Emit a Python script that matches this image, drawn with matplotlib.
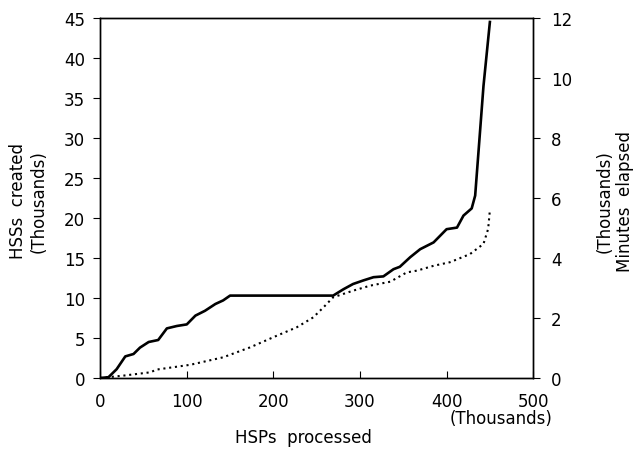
import matplotlib.pyplot as plt

# HSSs created (thousands) vs HSPs processed (thousands)
hss_x = [0, 9.6, 19, 29, 38.5, 46, 56, 67, 77, 88.5, 100, 110, 121, 133, 142, 150,
         269, 281, 292, 304, 315.6, 327, 338.7, 346, 358, 369.5, 385, 400, 412,
         419.5, 429, 433, 442.6, 450]
hss_y = [0, 0.1, 1.1, 2.7, 3.0, 3.8, 4.5, 4.75, 6.2, 6.5, 6.7, 7.8, 8.4, 9.25, 9.7, 10.3,
         10.3, 11.1, 11.75, 12.2, 12.6, 12.7, 13.6, 13.9, 15.1, 16.1, 16.95, 18.6, 18.8,
         20.3, 21.2, 22.8, 36.5, 44.5]

# Minutes elapsed (thousands)
min_x = [0, 27, 58, 65, 104, 142, 173, 204, 227, 246, 258, 269, 292, 312, 335,
         354, 366, 385, 404, 427, 442.6, 448, 450]
min_y = [0, 0.08, 0.19, 0.28, 0.44, 0.69, 1.02, 1.41, 1.69, 2.02, 2.36, 2.69, 2.91,
         3.08, 3.21, 3.52, 3.58, 3.74, 3.86, 4.13, 4.47, 4.97, 5.6]

plt.rcParams['font.family'] = ['DejaVu Sans']
plt.rcParams['font.size'] = 12

fig = plt.figure(figsize=(6.34, 4.52), dpi=100)
ax = fig.add_axes([0.158, 0.1615, 0.683, 0.7965])
ax2 = ax.twinx()

ax.plot(hss_x, hss_y, color='black', lw=1.9)
ax2.plot(min_x, min_y, color='black', lw=1.5, linestyle=(0, (1, 1.8)))

ax.set_xlim(0, 500)
ax.set_ylim(0, 45)
ax2.set_ylim(0, 12)
ax.set_xticks(range(0, 501, 100))
ax.set_yticks(range(0, 46, 5))
ax2.set_yticks(range(0, 13, 2))

ax.tick_params(axis='x', direction='in', length=5, pad=10)
ax.tick_params(axis='y', direction='out', length=5, pad=6)
ax2.tick_params(axis='y', direction='out', length=5, pad=8)

for a in (ax, ax2):
    for s in a.spines.values():
        s.set_linewidth(1.0)

fig.text(0.045, 0.555, 'HSSs  created\n(Thousands)', rotation=90, ha='center',
         va='center', linespacing=1.2)
fig.text(0.97, 0.555, '(Thousands)\nMinutes  elapsed', rotation=90, ha='center',
         va='center', linespacing=1.2)
fig.text(0.79, 0.072, '(Thousands)', ha='center', va='center')
fig.text(0.478, 0.032, 'HSPs  processed', ha='center', va='center')

fig.savefig('out.png', dpi=100)
